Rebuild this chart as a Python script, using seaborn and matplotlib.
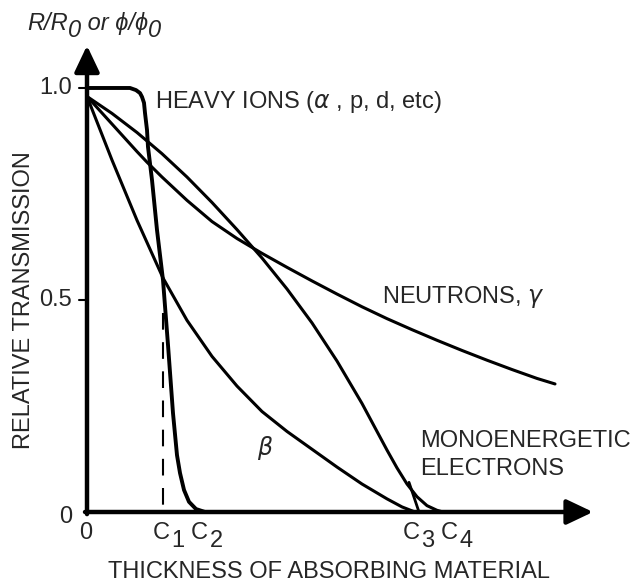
import numpy as np
import pandas as pd
import seaborn as sns
import matplotlib.pyplot as plt

# Relative transmission curves vs. absorber thickness (arbitrary thickness units)
heavy_x = [0.00, 0.43, 0.49, 0.53, 0.55, 0.57, 0.58, 0.60, 0.61, 0.65, 0.70, 0.76,
           0.81, 0.86, 0.90, 0.93, 0.97, 1.02, 1.09, 1.18, 1.28]
heavy_y = [1.000, 1.000, 0.995, 0.988, 0.979, 0.965, 0.941, 0.901, 0.861, 0.783, 0.665,
           0.547, 0.394, 0.233, 0.134, 0.092, 0.052, 0.024, 0.007, 0.000, 0.000]

neutron_x = [0.0, 0.25, 0.5, 0.6, 0.75, 1.0, 1.25, 1.5, 1.75, 2.0, 2.25, 2.5, 2.75,
             3.0, 3.25, 3.5, 3.75, 4.0, 4.25, 4.5, 4.68]
neutron_y = [0.98, 0.915, 0.85, 0.825, 0.79, 0.735, 0.685, 0.645, 0.61, 0.577, 0.545,
             0.514, 0.484, 0.456, 0.430, 0.405, 0.381, 0.358, 0.336, 0.315, 0.302]

mono_x = [0.0, 0.25, 0.5, 0.75, 1.0, 1.25, 1.5, 1.75, 2.0, 2.25, 2.5, 2.75, 3.0,
          3.1, 3.2, 3.3, 3.4, 3.5, 3.56]
mono_y = [0.98, 0.94, 0.895, 0.845, 0.79, 0.73, 0.666, 0.599, 0.526, 0.446, 0.356,
          0.256, 0.146, 0.104, 0.066, 0.036, 0.015, 0.004, 0.0]

beta_x = [0.0, 0.25, 0.5, 0.76, 1.0, 1.25, 1.5, 1.75, 2.0, 2.25, 2.5, 2.75, 3.0,
          3.15, 3.28]
beta_y = [0.98, 0.83, 0.688, 0.552, 0.452, 0.367, 0.297, 0.237, 0.190, 0.148, 0.106,
          0.066, 0.031, 0.012, 0.0]

# Mean range of heavy ions (C1) and extrapolated electron range (C3)
c1_guide_x = [0.76, 0.76]
c1_guide_y = [0.47, 0.0]
mono_extrap_x = [3.22, 3.32]
mono_extrap_y = [0.07, 0.0]

y_ticks = [0.0, 0.5, 1.0]
y_tick_labels = ["0", "0.5", "1.0"]
c_label_x = [0.745, 1.125, 3.245, 3.625]
c_label_digits = ["1", "2", "3", "4"]

sns.set_theme(style="white")
plt.rcParams['font.family'] = ['Liberation Sans', 'DejaVu Sans']
plt.rcParams['mathtext.fontset'] = 'dejavusans'

fig = plt.figure(figsize=(6.35, 5.84), dpi=100)
ax = fig.add_axes([0, 0, 1, 1])
ax.set_xlim(-0.87, 5.48)
ax.set_ylim(-0.1698, 1.2075)
ax.axis('off')

FS = 17

curves = [
    ("heavy", heavy_x, heavy_y, 2.8),
    ("neutron", neutron_x, neutron_y, 2.2),
    ("mono", mono_x, mono_y, 2.2),
    ("beta", beta_x, beta_y, 2.2),
]
for name, xs, ys, lw in curves:
    df = pd.DataFrame({"x": xs, "y": ys})
    sns.lineplot(data=df, x="x", y="y", ax=ax, color="black", linewidth=lw,
                 estimator=None, sort=False, legend=False)

sns.lineplot(x=c1_guide_x, y=c1_guide_y, ax=ax, color="black", linewidth=1.5,
             estimator=None, sort=False)
ax.lines[-1].set_dashes((8, 6))
sns.lineplot(x=mono_extrap_x, y=mono_extrap_y, ax=ax, color="black", linewidth=2.0,
             estimator=None, sort=False)

# Axes drawn as arrows
arrow = dict(arrowstyle='-|>,head_length=0.8,head_width=0.38', color='black',
             lw=3.2, shrinkA=0, shrinkB=0, mutation_scale=20)
ax.annotate('', xy=(5.06, 0.0), xytext=(-0.02, 0.0), arrowprops=arrow)
ax.annotate('', xy=(0.0, 1.10), xytext=(0.0, -0.005), arrowprops=arrow)

# Y ticks to the left of the axis
for yt, lab in zip(y_ticks, y_tick_labels):
    if yt > 0:
        ax.plot([-0.08, 0.0], [yt, yt], color='black', lw=1.5)
    ax.text(-0.15, yt - (0.012 if yt == 0 else 0.0), lab, ha='right', va='center',
            fontsize=FS)

ax.text(-0.01, -0.064, "0", ha='center', va='baseline', fontsize=FS)


def chain(x, y, pieces, **kw):
    """Place text pieces one after another, each with its own vertical shift (points)."""
    first_text, _ = pieces[0]
    prev = ax.text(x, y, first_text, ha='left', va='baseline', **kw)
    for txt, dy in pieces[1:]:
        prev = ax.annotate(txt, xy=(1, 0), xycoords=prev, xytext=(0, dy),
                           textcoords='offset points', ha='left', va='bottom', **kw)
    return prev


# C labels on the thickness axis
for cx, d in zip(c_label_x, c_label_digits):
    t = ax.text(cx, -0.064, "C", ha='center', va='baseline', fontsize=FS)
    ax.annotate(d, xy=(1, 0), xycoords=t, xytext=(1, -6), textcoords='offset points',
                ha='left', va='bottom', fontsize=FS)

ax.text(2.42, -0.156, "THICKNESS OF ABSORBING MATERIAL", ha='center', va='baseline',
        fontsize=FS)
ax.text(-0.63, 0.50, "RELATIVE TRANSMISSION", ha='center', va='center',
        rotation=90, fontsize=FS)

chain(-0.60, 1.137, [("R/R", 0), ("0", -5), (" or ϕ/ϕ", 5), ("0", -5)],
      fontsize=FS, style='italic')

ax.text(0.68, 0.953, r"HEAVY IONS ($\alpha$ , p, d, etc)", ha='left', va='baseline',
        fontsize=FS)
ax.text(2.95, 0.493, r"NEUTRONS, $\gamma$", ha='left', va='baseline', fontsize=FS)
ax.text(3.33, 0.153, "MONOENERGETIC", ha='left', va='baseline', fontsize=FS)
ax.text(3.33, 0.087, "ELECTRONS", ha='left', va='baseline', fontsize=FS)
ax.text(1.78, 0.151, r"$\beta$", ha='center', va='center', fontsize=FS)

fig.savefig("out.png", dpi=100)
